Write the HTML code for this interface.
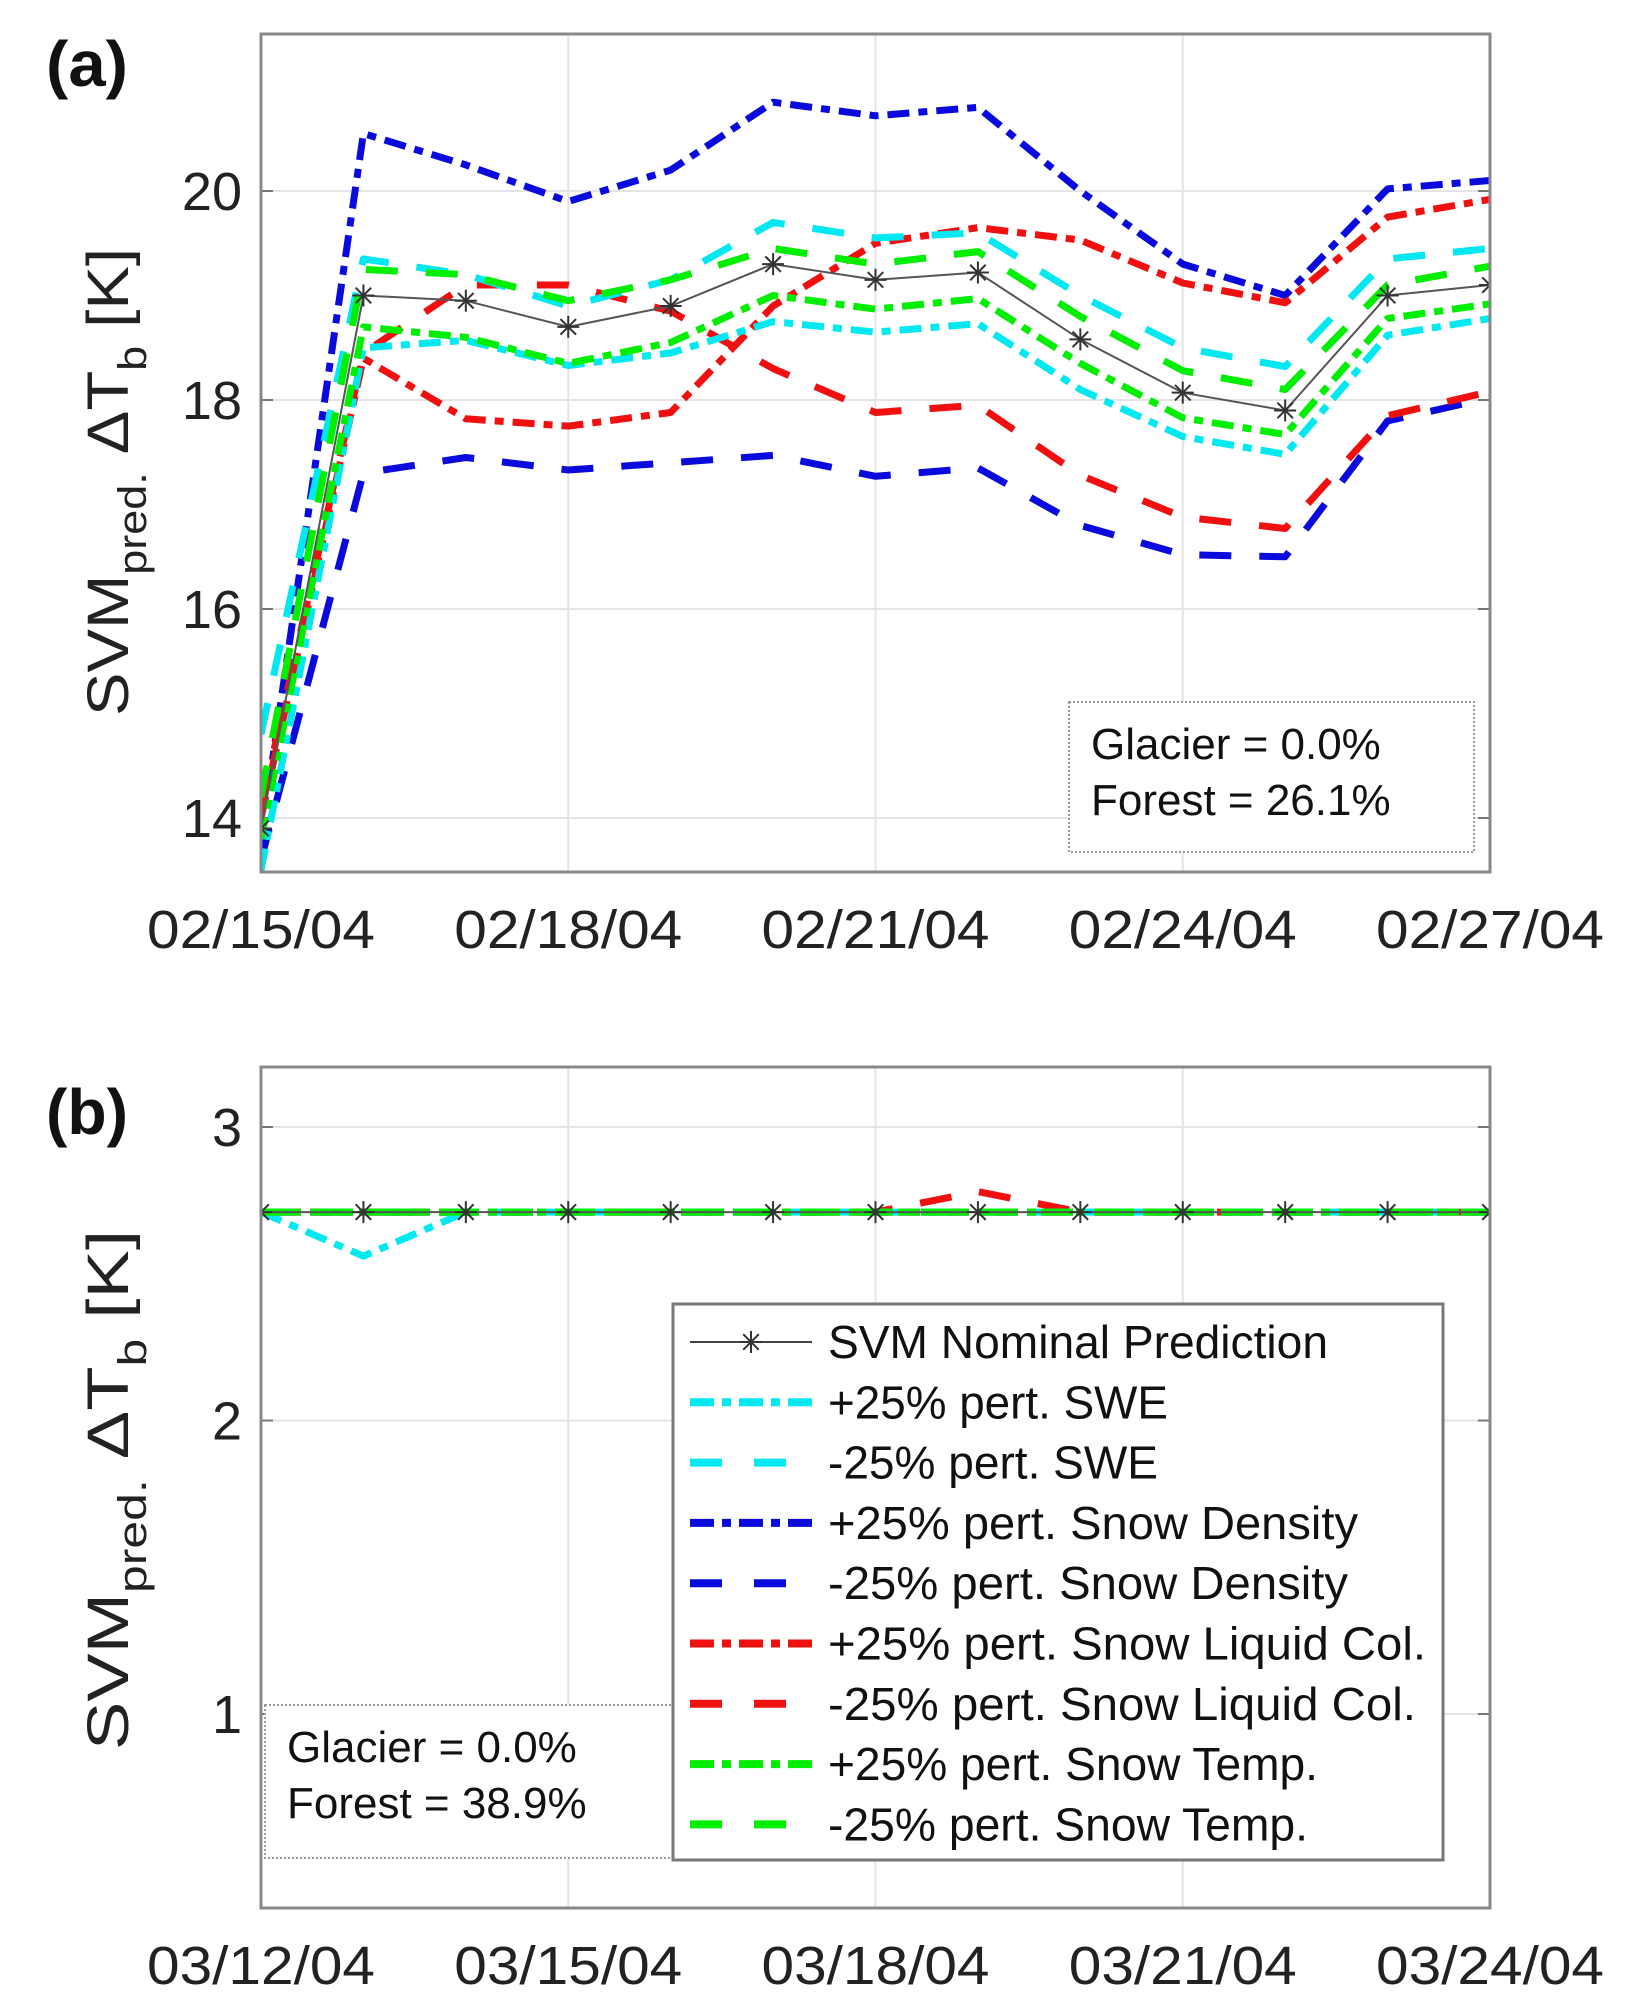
<!DOCTYPE html>
<html><head><meta charset="utf-8"><style>
html,body{margin:0;padding:0;background:#fff;}
svg{display:block;font-family:"Liberation Sans",sans-serif;}
</style></head><body>
<svg id="s" width="1633" height="2008" viewBox="0 0 1633 2008" xmlns="http://www.w3.org/2000/svg">
<rect width="1633" height="2008" fill="#fff"/>
<g id="g"></g>
<text x="46" y="86" font-size="64" font-weight="bold" fill="#111" textLength="82" lengthAdjust="spacingAndGlyphs">(a)</text>
<text x="46" y="1134" font-size="64" font-weight="bold" fill="#111" textLength="82" lengthAdjust="spacingAndGlyphs">(b)</text>
</svg>
<script>
var NS="http://www.w3.org/2000/svg",G=document.getElementById('g');
function el(t,a,p){var e=document.createElementNS(NS,t);for(var k in a)e.setAttribute(k,a[k]);(p||G).appendChild(e);return e;}
function tx(x,y,s,a,p){var e=el('text',a,p);e.setAttribute('x',x);e.setAttribute('y',y);e.textContent=s;return e;}
var X0=261,X1=1490,dx=(X1-X0)/12;
var DD="22 9 9 9",DA="32 28";
var C={cy:"#00e8f0",bl:"#0a0adc",rd:"#f01010",gr:"#00ee00"};
function panel(o){
  var yv=function(v){return o.yref+(o.vref-v)*o.k;};
  for(var i=0;i<=12;i+=3){var x=X0+i*dx;el('line',{x1:x,y1:o.top,x2:x,y2:o.bot,stroke:"#e4e4e4","stroke-width":2});}
  o.yt.forEach(function(v){var y=yv(v);el('line',{x1:X0,y1:y,x2:X1,y2:y,stroke:"#e4e4e4","stroke-width":2});
    el('line',{x1:X0,y1:y,x2:X0+12,y2:y,stroke:"#777","stroke-width":2});el('line',{x1:X1-12,y1:y,x2:X1,y2:y,stroke:"#777","stroke-width":2});
    tx(242,y+19,String(v),{"font-size":54,"text-anchor":"end",fill:"#222"});});
  o.xl.forEach(function(s,j){var x=X0+j*3*dx;tx(x,o.bot+76,s,{"font-size":54,"text-anchor":"middle",fill:"#222",textLength:228,lengthAdjust:"spacingAndGlyphs"});});
  var b=o.box;el('rect',{x:b[0],y:b[1],width:b[2],height:b[3],fill:"#fff",stroke:"#999","stroke-width":2,"stroke-dasharray":"2 2"});
  tx(b[0]+22,b[1]+57,"Glacier = 0.0%",{"font-size":44,fill:"#111"});
  tx(b[0]+22,b[1]+113,o.forest,{"font-size":44,fill:"#111"});
  var cp=el('clipPath',{id:'c'+o.id});el('rect',{x:X0,y:o.top,width:X1-X0,height:o.bot-o.top},cp);
  var gg=el('g',{'clip-path':'url(#c'+o.id+')'});
  o.series.forEach(function(s){var pts=s.d.map(function(v,i){return (X0+i*dx).toFixed(1)+","+yv(v).toFixed(1);}).join(" ");
    el('polyline',{points:pts,fill:"none",stroke:s.c,"stroke-width":7,"stroke-dasharray":s.da,"stroke-linejoin":"round"},gg);});
  var pts=o.nom.map(function(v,i){return (X0+i*dx).toFixed(1)+","+yv(v).toFixed(1);}).join(" ");
  el('polyline',{points:pts,fill:"none",stroke:"#555","stroke-width":2},gg);
  o.nom.forEach(function(v,i){star(X0+i*dx,yv(v),gg);});
  el('rect',{x:X0,y:o.top,width:X1-X0,height:o.bot-o.top,fill:"none",stroke:"#888","stroke-width":3});
  var cy=o.lc,t=el('text',{x:0,y:0,"font-size":58,fill:"#222",transform:"translate(128,"+cy+") rotate(-90)","text-anchor":"middle",textLength:o.ll,lengthAdjust:"spacingAndGlyphs"});
  t.innerHTML='SVM<tspan font-size="40" dy="18">pred.</tspan><tspan dy="-18"> \u0394T</tspan><tspan font-size="40" dy="18">b</tspan><tspan dy="-18"> [K]</tspan>';
}
function star(x,y,p){var r=11;for(var a=0;a<4;a++){var t=a*Math.PI/4;el('line',{x1:x-r*Math.cos(t),y1:y-r*Math.sin(t),x2:x+r*Math.cos(t),y2:y+r*Math.sin(t),stroke:"#333","stroke-width":2},p);}}
panel({id:'a',top:34,bot:872,yref:191,vref:20,k:104.5,yt:[20,18,16,14],
 xl:["02/15/04","02/18/04","02/21/04","02/24/04","02/27/04"],box:[1069,702,405,150],forest:"Forest = 26.1%",lc:482,ll:468,
 series:[
 {c:C.bl,da:DD,d:[13.8,20.55,20.25,19.9,20.2,20.85,20.72,20.8,20.0,19.3,19.0,20.02,20.1]},
 {c:C.bl,da:DA,d:[13.6,17.3,17.45,17.33,17.4,17.47,17.27,17.35,16.8,16.52,16.5,17.8,18.02]},
 {c:C.rd,da:DD,d:[14.0,18.4,17.82,17.75,17.88,18.9,19.5,19.65,19.53,19.12,18.93,19.75,19.92]},
 {c:C.rd,da:DA,d:[14.1,18.45,19.1,19.1,18.85,18.3,17.88,17.95,17.28,16.88,16.77,17.85,18.08]},
 {c:C.cy,da:DD,d:[13.5,18.5,18.57,18.33,18.45,18.75,18.65,18.73,18.1,17.65,17.48,18.62,18.78]},
 {c:C.cy,da:DA,d:[14.8,19.35,19.2,18.9,19.15,19.7,19.55,19.6,19.0,18.5,18.32,19.35,19.45]},
 {c:C.gr,da:DD,d:[13.8,18.7,18.6,18.35,18.55,19.0,18.87,18.97,18.35,17.83,17.67,18.78,18.92]},
 {c:C.gr,da:DA,d:[14.2,19.25,19.2,18.95,19.15,19.45,19.3,19.42,18.8,18.28,18.1,19.1,19.28]}],
 nom:[13.9,19.0,18.95,18.7,18.9,19.3,19.15,19.22,18.58,18.07,17.9,19.0,19.1]});
var f=function(){return [2.71,2.71,2.71,2.71,2.71,2.71,2.71,2.71,2.71,2.71,2.71,2.71,2.71];};
var cyd=f();cyd[1]=2.56;var rdd=f();rdd[7]=2.78;
panel({id:'b',top:1067,bot:1908,yref:1127,vref:3,k:293.5,yt:[3,2,1],
 xl:["03/12/04","03/15/04","03/18/04","03/21/04","03/24/04"],box:[265,1705,420,153],forest:"Forest = 38.9%",lc:1490,ll:520,
 series:[{c:C.bl,da:DD,d:f()},{c:C.bl,da:DA,d:f()},{c:C.rd,da:DD,d:f()},{c:C.rd,da:DA,d:rdd},
 {c:C.cy,da:DD,d:cyd},{c:C.cy,da:DA,d:f()},{c:C.gr,da:DD,d:f()},{c:C.gr,da:DA,d:f()}],nom:f()});
el('rect',{x:673,y:1304,width:770,height:556,fill:"#fff",stroke:"#777","stroke-width":3});
var L=[["#444",null,"SVM Nominal Prediction",500],[C.cy,DD,"+25% pert. SWE",340],[C.cy,DA,"-25% pert. SWE",330],
[C.bl,DD,"+25% pert. Snow Density",530],[C.bl,DA,"-25% pert. Snow Density",520],[C.rd,DD,"+25% pert. Snow Liquid Col.",598],
[C.rd,DA,"-25% pert. Snow Liquid Col.",588],[C.gr,DD,"+25% pert. Snow Temp.",490],[C.gr,DA,"-25% pert. Snow Temp.",480]];
L.forEach(function(r,i){var y=1342+i*60.3;
 if(r[1]===null){el('line',{x1:690,y1:y,x2:812,y2:y,stroke:"#444","stroke-width":2});star(751,y);}
 else el('line',{x1:690,y1:y,x2:812,y2:y,stroke:r[0],"stroke-width":8,"stroke-dasharray":r[1]=="32 28"?"32 32":"24 8 9 8","stroke-linecap":"butt"});
 tx(828,y+16,r[2],{"font-size":46,fill:"#111",textLength:r[3],lengthAdjust:"spacingAndGlyphs"});});
</script>
</body></html>
